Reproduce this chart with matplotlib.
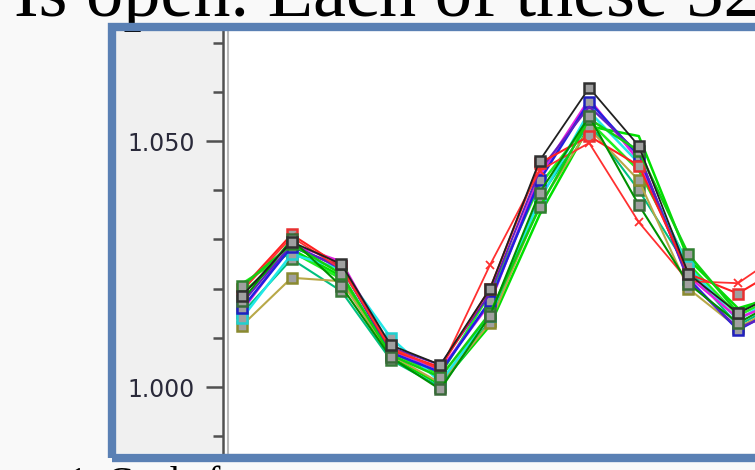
import matplotlib.pyplot as plt
from matplotlib.patches import Rectangle
from matplotlib.lines import Line2D
from matplotlib.ticker import MultipleLocator, FixedLocator

# sample points along the x axis (last one runs off the slide)
points = list(range(12))

# series values
red_x = [1.0195, 1.0305, 1.0240, 1.0080, 1.0035, 1.0248, 1.0440, 1.0496, 1.0335, 1.0215, 1.0211, 1.0280]
red = [1.0200, 1.0310, 1.0245, 1.0075, 1.0040, 1.0200, 1.0455, 1.0510, 1.0450, 1.0230, 1.0190, 1.0250]
black = [1.0185, 1.0295, 1.0250, 1.0085, 1.0045, 1.0200, 1.0460, 1.0608, 1.0490, 1.0230, 1.0150, 1.0200]
blue = [1.0160, 1.0285, 1.0245, 1.0070, 1.0030, 1.0175, 1.0420, 1.0580, 1.0470, 1.0220, 1.0116, 1.0170]
magenta = [1.0155, 1.0290, 1.0255, 1.0075, 1.0035, 1.0170, 1.0430, 1.0585, 1.0460, 1.0225, 1.0140, 1.0180]
cyan = [1.0140, 1.0270, 1.0240, 1.0100, 1.0010, 1.0145, 1.0380, 1.0560, 1.0455, 1.0245, 1.0135, 1.0200]
lime = [1.0190, 1.0280, 1.0225, 1.0060, 1.0005, 1.0125, 1.0350, 1.0530, 1.0510, 1.0260, 1.0160, 1.0190]
green = [1.0205, 1.0290, 1.0230, 1.0065, 1.0020, 1.0150, 1.0365, 1.0545, 1.0480, 1.0270, 1.0150, 1.0210]
olive = [1.0125, 1.0222, 1.0215, 1.0065, 1.0008, 1.0130, 1.0370, 1.0525, 1.0420, 1.0200, 1.0120, 1.0175]
dark_green = [1.0175, 1.0300, 1.0205, 1.0060, 0.9995, 1.0145, 1.0395, 1.0550, 1.0370, 1.0210, 1.0130, 1.0185]
lime2 = [1.0210, 1.0275, 1.0220, 1.0070, 1.0025, 1.0190, 1.0410, 1.0540, 1.0440, 1.0250, 1.0145, 1.0195]
teal = [1.0150, 1.0260, 1.0195, 1.0055, 1.0000, 1.0135, 1.0385, 1.0535, 1.0400, 1.0240, 1.0125, 1.0180]
purple = [1.0170, 1.0290, 1.0240, 1.0080, 1.0045, 1.0190, 1.0440, 1.0570, 1.0475, 1.0215, 1.0120, 1.0160]

W, H = 755, 470


def fx(px):
    return px / W


def fy(py):
    return (H - py) / H


fig = plt.figure(figsize=(7.55, 4.70), dpi=100, facecolor='#f9f9f9')

# grey axis panel inside the picture frame
fig.add_artist(Rectangle((fx(116), fy(453)), fx(222) - fx(116), fy(30) - fy(453),
                         transform=fig.transFigure, facecolor='#f0f0f0', edgecolor='none', zorder=0))

# plot area: keeps going past the right edge of the slide
x0, x1, step = 223, 905, 49.6
ax = fig.add_axes([fx(x0), fy(453), fx(x1) - fx(x0), fy(30) - fy(453)])
ax.set_facecolor('white')

sq = dict(marker='s', markersize=6.5, markerfacecolor='#a0a0a0', markeredgewidth=1.8)
ax.plot(points, lime, color='#00e000', lw=1.8)
ax.plot(points, lime2, color='#20f020', lw=1.8)
ax.plot(points, teal, color='#00c080', lw=1.5, markeredgecolor='#3a7a3a', **sq)
ax.plot(points, olive, color='#b8a848', lw=1.5, markeredgecolor='#8a8a30', **sq)
ax.plot(points, cyan, color='#20e8e8', lw=1.8, markeredgecolor='#20d0d0', **sq)
ax.plot(points, magenta, color='#e020e0', lw=1.8)
ax.plot(points, blue, color='#2020e0', lw=1.8, markeredgecolor='#2020c0', **sq)
ax.plot(points, purple, color='#6020c0', lw=1.5)
ax.plot(points, red, color='#ff2020', lw=1.5, markeredgecolor='#e83030', **sq)
ax.plot(points, red_x, color='#ff3030', lw=1.3, marker='x', markersize=6, markeredgewidth=1.3)
ax.plot(points, green, color='#10d010', lw=1.8, markeredgecolor='#2f7f2f', **sq)
ax.plot(points, dark_green, color='#009000', lw=1.5, markeredgecolor='#3a6a3a', **sq)
ax.plot(points, black, color='#202020', lw=1.3, markeredgecolor='#303030', **sq)

ax.set_xlim((x0 - 242) / step, (x1 - 242) / step)
ax.set_ylim(1.0 - 66 / 4920, 1.0 + 357 / 4920)

for s in ['top', 'right', 'bottom']:
    ax.spines[s].set_visible(False)
ax.spines['left'].set_color('#505050')
ax.spines['left'].set_linewidth(1.8)
ax.set_xticks([])
ax.yaxis.set_major_locator(FixedLocator([1.000, 1.050]))
ax.yaxis.set_minor_locator(MultipleLocator(0.01))
ax.set_yticklabels(['1.000', '1.050'])
ax.tick_params(axis='y', which='major', length=12.5, width=1.8, color='#505050',
               labelsize=17, labelcolor='#2a2a3a', pad=8)
ax.tick_params(axis='y', which='minor', length=7, width=1.8, color='#505050')

# light second rule next to the axis line
fig.add_artist(Line2D([fx(228), fx(228)], [fy(453), fy(30)], transform=fig.transFigure,
                      color='#b8b8b8', lw=1.5, zorder=5))

# blue picture frame
fig.add_artist(Rectangle((fx(112), fy(457.5)), fx(960) - fx(112), fy(26.5) - fy(457.5),
                         transform=fig.transFigure, facecolor='none', edgecolor='#5a80b4',
                         lw=6, zorder=10))

# slide text around the picture (cut off by the screenshot)
fig.text(fx(14), fy(16), 'Is open. Each of these 32', family='Liberation Serif',
         fontsize=53.5, color='black', va='baseline', ha='left', zorder=2)
fig.text(fx(68), fy(465), '1. Cycle f', family='Liberation Serif',
         fontsize=28, color='black', va='top', ha='left', zorder=2)

fig.savefig('out.png', dpi=100, facecolor=fig.get_facecolor())
